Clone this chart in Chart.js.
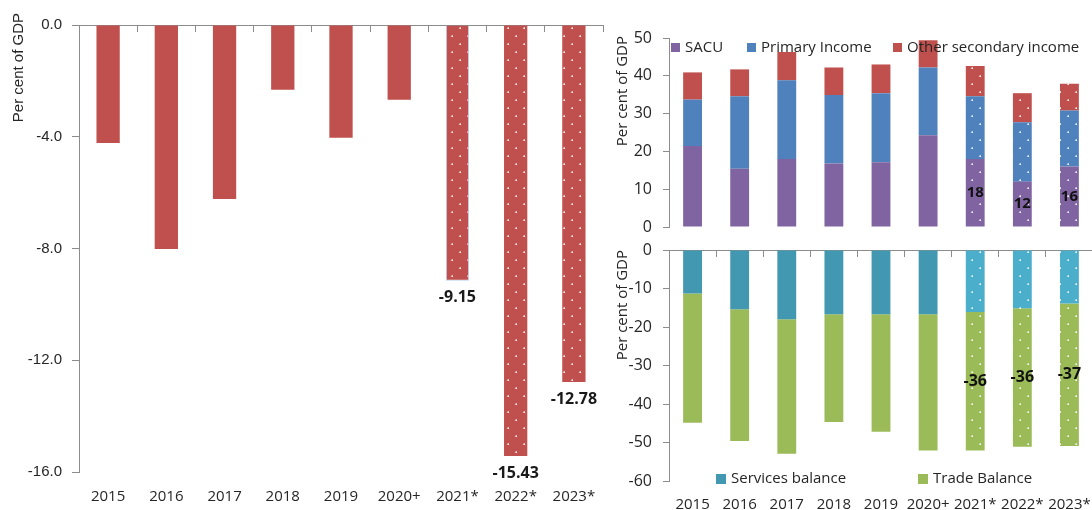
<!DOCTYPE html>
<html>
<head>
<meta charset="utf-8">
<script src="https://cdn.jsdelivr.net/npm/chart.js@4/dist/chart.umd.min.js"></script>
<style>
  html, body { margin: 0; padding: 0; background: #fff; overflow: hidden; width: 1092px; height: 510px; }
  canvas { position: absolute; display: block; }
  #currentAccount { left: 0; top: 0; }
  #incomeFlows { left: 600px; top: 0; }
  #tradeFlows { left: 600px; top: 240px; }
</style>
</head>
<body>
<canvas id="currentAccount" width="610" height="510"></canvas>
<canvas id="incomeFlows" width="500" height="240"></canvas>
<canvas id="tradeFlows" width="500" height="270"></canvas>
<script>
// Years; the last three are projections (drawn with a dotted fill)
const years = ['2015', '2016', '2017', '2018', '2019', '2020+', '2021*', '2022*', '2023*'];
const projected = [false, false, false, false, false, false, true, true, true];

// Current account balance, per cent of GDP
const currentAccount = [-4.22, -8.02, -6.23, -2.32, -4.04, -2.68, -9.15, -15.43, -12.78];

// Income inflows, per cent of GDP
const sacu = [21.4, 15.4, 18.0, 16.8, 17.1, 24.3, 18, 12, 16];
const primaryIncome = [12.3, 19.2, 20.8, 18.1, 18.3, 17.9, 16.6, 15.7, 14.8];
const otherSecondary = [7.2, 7.1, 7.5, 7.3, 7.6, 7.2, 8.0, 7.7, 7.1];

// Trade and services balances, per cent of GDP
const servicesBalance = [-11.3, -15.4, -18.0, -16.7, -16.7, -16.7, -16.1, -15.1, -13.9];
const tradeBalance = [-33.6, -34.2, -34.9, -28.0, -30.5, -35.4, -36, -36, -37];

// Axis tick values
const currentAccountTicks = [0, -4, -8, -12, -16];
const incomeTicks = [0, 10, 20, 30, 40, 50];
const tradeTicks = [0, -10, -20, -30, -40, -50, -60];

const AXIS = '#8C8C8C';
const TEXT = '#262626';
const SANS = "'Open Sans', 'Noto Sans', sans-serif";
const ARIAL = "'Liberation Sans', Arial, sans-serif";

// White-dot fill used for projected years
function dotted(color) {
  const c = document.createElement('canvas');
  c.width = 16; c.height = 16;
  const g = c.getContext('2d');
  g.fillStyle = color;
  g.fillRect(0, 0, 16, 16);
  g.fillStyle = 'rgba(255,255,255,0.95)';
  g.fillRect(3.4, 3.4, 1.6, 1.6);
  g.fillRect(11.4, 11.4, 1.6, 1.6);
  return g.createPattern(c, 'repeat');
}
const fills = (hist, proj) => projected.map(p => (p ? dotted(proj || hist) : hist));

// Value labels on projected bars
const valueLabels = {
  id: 'valueLabels',
  afterDatasetsDraw(chart, args, o) {
    const ctx = chart.ctx;
    const ds = chart.data.datasets[o.datasetIndex];
    const meta = chart.getDatasetMeta(o.datasetIndex);
    ctx.save();
    ctx.font = o.font;
    ctx.fillStyle = o.color;
    ctx.textAlign = 'center';
    ctx.textBaseline = 'middle';
    meta.data.forEach((el, i) => {
      if (!projected[i]) return;
      const v = ds.data[i];
      const y = o.below ? el.y + o.offset : (el.y + el.base) / 2;
      ctx.fillText(v.toFixed(o.decimals), el.x, y);
    });
    ctx.restore();
  }
};

// Legend drawn inside the plot area
const boxLegend = {
  id: 'boxLegend',
  afterDraw(chart, args, o) {
    if (!o.x) return;
    const ctx = chart.ctx;
    ctx.save();
    ctx.font = o.font;
    ctx.textAlign = 'left';
    ctx.textBaseline = 'middle';
    chart.data.datasets.forEach((ds, i) => {
      const x = o.x[i];
      ctx.fillStyle = ds.legendColor;
      ctx.fillRect(x, o.y - o.box / 2, o.box, o.box);
      ctx.fillStyle = TEXT;
      ctx.fillText(ds.label, x + o.gap, o.y);
    });
    ctx.restore();
  }
};

// Rotated axis title anchored at its top end
const sideTitle = {
  id: 'sideTitle',
  afterDraw(chart, args, o) {
    const ctx = chart.ctx;
    ctx.save();
    ctx.translate(o.x, o.top);
    ctx.rotate(-Math.PI / 2);
    ctx.font = o.font;
    ctx.fillStyle = TEXT;
    ctx.textAlign = 'right';
    ctx.textBaseline = 'middle';
    ctx.fillText(o.text, 0, 0);
    ctx.restore();
  }
};

function valueAxis(ticks, width, font, tickLength, padding, decimals) {
  return {
    type: 'linear',
    min: Math.min(...ticks),
    max: Math.max(...ticks),
    stacked: true,
    afterBuildTicks: s => { s.ticks = ticks.map(v => ({ value: v })); },
    afterFit: s => { s.width = width; s.paddingTop = 0; s.paddingBottom = 0; },
    grid: { display: true, drawOnChartArea: false, drawTicks: true, tickLength, color: AXIS },
    border: { display: true, color: AXIS, width: 1 },
    ticks: { font, color: TEXT, padding, callback: v => Number(v).toFixed(decimals) }
  };
}

function labelAxis(height, padding, show) {
  return {
    type: 'category',
    axis: 'x',
    position: 'bottom',
    display: show,
    offset: true,
    stacked: true,
    afterFit: s => { s.height = height; s.paddingLeft = 0; s.paddingRight = 0; },
    grid: { display: false, drawTicks: false, offset: true },
    border: { display: false },
    ticks: { font: { family: SANS, size: 15 }, color: TEXT, padding, autoSkip: false, maxRotation: 0, minRotation: 0 }
  };
}

// Category axis line sitting on the zero level, with outward tick marks
const zeroAxis = {
  type: 'category',
  axis: 'x',
  position: { y: 0 },
  offset: true,
  grid: { display: true, drawOnChartArea: false, drawTicks: true, tickLength: 6, offset: true, color: AXIS },
  border: { display: true, color: AXIS, width: 1 },
  ticks: { display: false }
};

const common = {
  responsive: false,
  maintainAspectRatio: false,
  animation: false,
  events: []
};

// Left: current account balance
new Chart(document.getElementById('currentAccount'), {
  type: 'bar',
  data: {
    labels: years,
    datasets: [{
      label: 'Current account balance',
      data: currentAccount,
      xAxisID: 'x', yAxisID: 'y',
      backgroundColor: fills('#C0504D'),
      borderColor: projected.map((p, i) => (i === 6 ? '#BCD3EE' : 'rgba(0,0,0,0)')),
      borderWidth: projected.map((p, i) => (i === 6 ? 1 : 0)),
      barPercentage: 0.4,
      categoryPercentage: 1
    }]
  },
  options: {
    ...common,
    layout: { padding: { top: 25, right: 7, bottom: 0, left: 0 } },
    scales: {
      x: labelAxis(38, 16, true),
      y: valueAxis(currentAccountTicks, 79, { family: ARIAL, size: 15 }, 7, 10, 1),
      zero: zeroAxis
    },
    plugins: {
      legend: { display: false },
      tooltip: { enabled: false },
      valueLabels: { datasetIndex: 0, below: true, offset: 17, decimals: 2, font: `bold 16px ${SANS}`, color: '#1A1A1A' },
      boxLegend: {},
      sideTitle: { text: 'Per cent of GDP', x: 19, top: 13, font: `15px ${ARIAL}` }
    }
  },
  plugins: [valueLabels, sideTitle]
});

// Top right: income inflows
new Chart(document.getElementById('incomeFlows'), {
  type: 'bar',
  data: {
    labels: years,
    datasets: [
      { label: 'SACU', data: sacu, legendColor: '#8064A2', backgroundColor: fills('#8064A2') },
      { label: 'Primary Income', data: primaryIncome, legendColor: '#4F81BD', backgroundColor: fills('#4F81BD') },
      { label: 'Other secondary income', data: otherSecondary, legendColor: '#C0504D', backgroundColor: fills('#C0504D') }
    ].map(d => ({ ...d, xAxisID: 'x', yAxisID: 'y', barPercentage: 0.4, categoryPercentage: 1, borderWidth: 0 }))
  },
  options: {
    ...common,
    layout: { padding: { top: 38, right: 7, bottom: 13, left: 0 } },
    scales: {
      x: labelAxis(0, 0, false),
      y: valueAxis(incomeTicks, 69, { family: SANS, size: 16 }, 6, 11, 0)
    },
    plugins: {
      legend: { display: false },
      tooltip: { enabled: false },
      valueLabels: { datasetIndex: 0, below: false, decimals: 0, font: `bold 15px ${SANS}`, color: '#111' },
      boxLegend: { x: [71, 147, 293], y: 47.5, box: 9, gap: 14, font: `15px ${SANS}` },
      sideTitle: { text: 'Per cent of GDP', x: 23, top: 36, font: `15px ${SANS}` }
    }
  },
  plugins: [valueLabels, boxLegend, sideTitle]
});

// Bottom right: services and trade balances
new Chart(document.getElementById('tradeFlows'), {
  type: 'bar',
  data: {
    labels: years,
    datasets: [
      { label: 'Services balance', data: servicesBalance, legendColor: '#4198B0', backgroundColor: fills('#4198B0', '#4BAFCB') },
      { label: 'Trade Balance', data: tradeBalance, legendColor: '#9BBB59', backgroundColor: fills('#9BBB59') }
    ].map(d => ({ ...d, xAxisID: 'x', yAxisID: 'y', barPercentage: 0.4, categoryPercentage: 1, borderWidth: 0 }))
  },
  options: {
    ...common,
    layout: { padding: { top: 10, right: 7, bottom: 0, left: 0 } },
    scales: {
      x: labelAxis(29, 15, true),
      y: valueAxis(tradeTicks, 69, { family: SANS, size: 16 }, 6, 11, 0),
      zero: zeroAxis
    },
    plugins: {
      legend: { display: false },
      tooltip: { enabled: false },
      valueLabels: { datasetIndex: 1, below: false, decimals: 0, font: `bold 16px ${SANS}`, color: '#111' },
      boxLegend: { x: [116, 318], y: 239, box: 10, gap: 15, font: `15px ${SANS}` },
      sideTitle: { text: 'Per cent of GDP', x: 23, top: 10, font: `15px ${SANS}` }
    }
  },
  plugins: [valueLabels, boxLegend, sideTitle]
});
</script>
</body>
</html>
